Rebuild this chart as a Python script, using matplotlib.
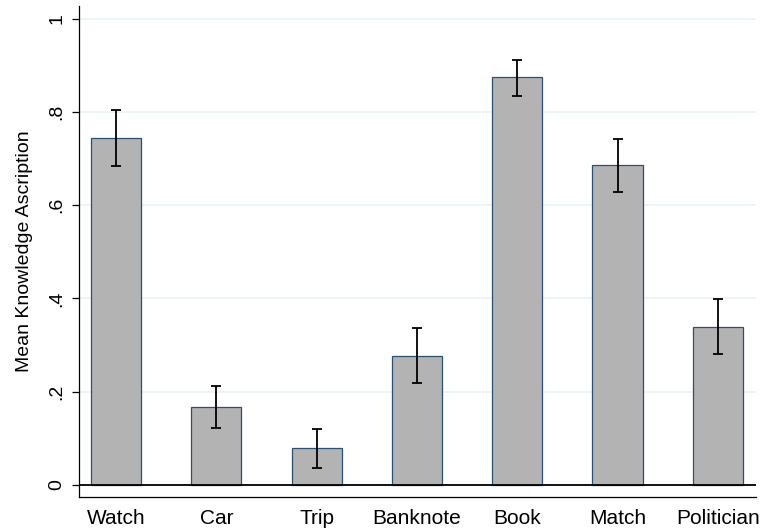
import matplotlib
matplotlib.use("Agg")
import matplotlib.pyplot as plt
import numpy as np

# Mean knowledge ascription per vignette with 95% confidence intervals
categories = ["Watch", "Car", "Trip", "Banknote", "Book", "Match", "Politician"]
means = [0.743, 0.168, 0.078, 0.277, 0.874, 0.685, 0.339]
ci_low = [0.683, 0.122, 0.037, 0.218, 0.835, 0.628, 0.281]
ci_high = [0.804, 0.213, 0.119, 0.336, 0.912, 0.741, 0.399]
yticks = [0, 0.2, 0.4, 0.6, 0.8, 1.0]
ytick_labels = ["0", ".2", ".4", ".6", ".8", "1"]

plt.rcParams["font.family"] = ["Liberation Sans", "DejaVu Sans"]

fig = plt.figure(figsize=(7.61, 5.29), dpi=100)
ax = fig.add_axes([0.1038, 0.0605, 0.8896, 0.9282])

x = np.arange(len(categories))
means_a = np.array(means)
yerr = np.vstack([means_a - np.array(ci_low), np.array(ci_high) - means_a])

ax.set_axisbelow(True)
ax.yaxis.grid(True, color="#eaf2f3", linewidth=1.2)
ax.xaxis.grid(False)

ax.bar(x, means_a, width=0.5, color="#b3b3b3", edgecolor="#2c4f74",
       linewidth=0.9, zorder=2)
ax.errorbar(x, means_a, yerr=yerr, fmt="none", ecolor="black",
            elinewidth=1.3, capsize=3.6, capthick=1.3, zorder=3)

ax.axhline(0, color="black", linewidth=1.3, zorder=4)

ax.set_xlim(-0.37, 6.38)
ax.set_ylim(-0.026, 1.027)

ax.set_yticks(yticks)
ax.set_yticklabels(ytick_labels, rotation=90, va="center", fontsize=14)
ax.set_xticks(x)
ax.set_xticklabels(categories, fontsize=15)

ax.tick_params(axis="x", length=0, pad=8.5)
ax.tick_params(axis="y", length=5, width=0.9, pad=5)

ax.set_ylabel("Mean Knowledge Ascription", fontsize=14, labelpad=11)

for side in ("top", "right"):
    ax.spines[side].set_visible(False)
for side in ("left", "bottom"):
    ax.spines[side].set_linewidth(0.9)

fig.savefig("out.png", dpi=100)
